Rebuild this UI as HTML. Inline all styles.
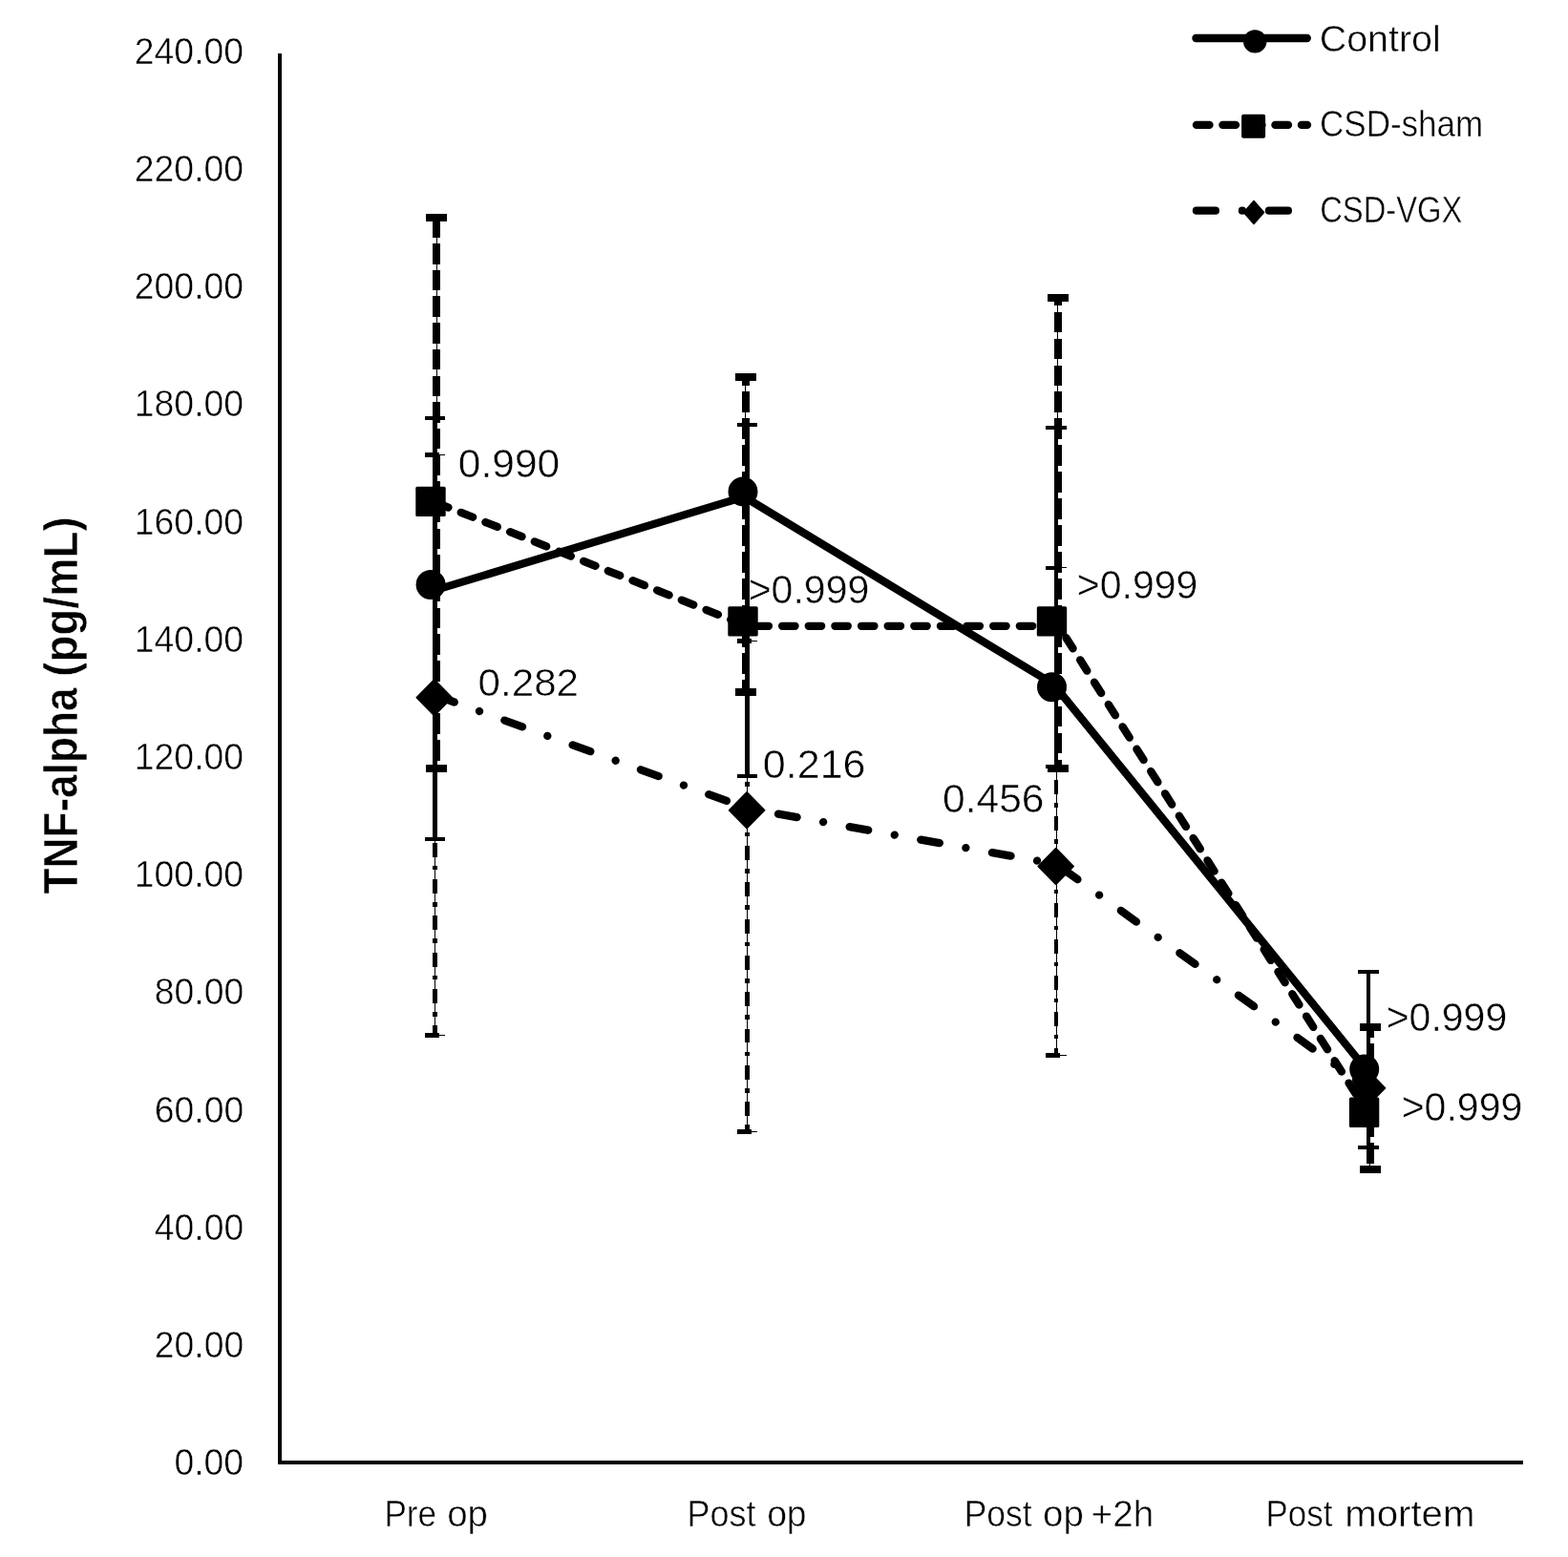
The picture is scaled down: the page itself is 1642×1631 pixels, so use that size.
<!DOCTYPE html>
<html lang="en">
<head>
<meta charset="utf-8">
<title>TNF-alpha (pg/mL) by time point</title>
<style>
html,body{margin:0;padding:0;background:#fff;}
body{width:1642px;height:1631px;overflow:hidden;}
svg{display:block;}
text{fill:#000;}
</style>
</head>
<body>
<svg xmlns="http://www.w3.org/2000/svg" width="1642" height="1631" viewBox="0 0 1642 1631">
<rect x="0" y="0" width="1642" height="1631" fill="#fff"/>
<g id="errorbars" fill="#000" shape-rendering="crispEdges">
<rect x="291.30" y="55.90" width="3.90" height="1478.10" />
<rect x="291.30" y="1530.00" width="1303.70" height="4.00" />
<rect x="454.95" y="476.70" width="1.10" height="607.80" />
<rect x="453.10" y="714.80" width="4.90" height="14.80" />
<rect x="453.10" y="701.00" width="4.90" height="4.70" />
<rect x="453.10" y="676.50" width="4.90" height="14.80" />
<rect x="453.10" y="662.70" width="4.90" height="4.70" />
<rect x="453.10" y="638.20" width="4.90" height="14.80" />
<rect x="453.10" y="624.40" width="4.90" height="4.70" />
<rect x="453.10" y="599.90" width="4.90" height="14.80" />
<rect x="453.10" y="586.10" width="4.90" height="4.70" />
<rect x="453.10" y="561.60" width="4.90" height="14.80" />
<rect x="453.10" y="547.80" width="4.90" height="4.70" />
<rect x="453.10" y="523.30" width="4.90" height="14.80" />
<rect x="453.10" y="509.50" width="4.90" height="4.70" />
<rect x="453.10" y="485.00" width="4.90" height="14.80" />
<rect x="453.10" y="729.60" width="4.90" height="14.80" />
<rect x="453.10" y="753.50" width="4.90" height="4.70" />
<rect x="453.10" y="767.90" width="4.90" height="14.80" />
<rect x="453.10" y="791.80" width="4.90" height="4.70" />
<rect x="453.10" y="806.20" width="4.90" height="14.80" />
<rect x="453.10" y="830.10" width="4.90" height="4.70" />
<rect x="453.10" y="844.50" width="4.90" height="14.80" />
<rect x="453.10" y="868.40" width="4.90" height="4.70" />
<rect x="453.10" y="882.80" width="4.90" height="14.80" />
<rect x="453.10" y="906.70" width="4.90" height="4.70" />
<rect x="453.10" y="921.10" width="4.90" height="14.80" />
<rect x="453.10" y="945.00" width="4.90" height="4.70" />
<rect x="453.10" y="959.40" width="4.90" height="14.80" />
<rect x="453.10" y="983.30" width="4.90" height="4.70" />
<rect x="453.10" y="997.70" width="4.90" height="14.80" />
<rect x="453.10" y="1021.60" width="4.90" height="4.70" />
<rect x="453.10" y="1036.00" width="4.90" height="14.80" />
<rect x="453.10" y="1059.90" width="4.90" height="4.70" />
<rect x="453.10" y="1074.30" width="4.90" height="10.20" />
<rect x="444.90" y="474.40" width="15.30" height="4.60" />
<rect x="460.20" y="476.15" width="5.90" height="1.10" />
<rect x="444.90" y="1082.10" width="15.30" height="4.80" />
<rect x="460.20" y="1083.95" width="5.90" height="1.10" />
<rect x="453.10" y="438.00" width="4.60" height="441.00" />
<rect x="444.90" y="435.90" width="21.20" height="4.20" />
<rect x="444.90" y="876.90" width="21.20" height="4.20" />
<rect x="456.75" y="227.90" width="1.10" height="577.10" />
<rect x="453.10" y="504.30" width="7.80" height="21.50" />
<rect x="453.10" y="476.60" width="7.80" height="21.50" />
<rect x="453.10" y="448.90" width="7.80" height="21.50" />
<rect x="453.10" y="421.20" width="7.80" height="21.50" />
<rect x="453.10" y="393.50" width="7.80" height="21.50" />
<rect x="453.10" y="365.80" width="7.80" height="21.50" />
<rect x="453.10" y="338.10" width="7.80" height="21.50" />
<rect x="453.10" y="310.40" width="7.80" height="21.50" />
<rect x="453.10" y="282.70" width="7.80" height="21.50" />
<rect x="453.10" y="255.00" width="7.80" height="21.50" />
<rect x="453.10" y="227.90" width="7.80" height="20.90" />
<rect x="453.10" y="525.80" width="7.80" height="21.50" />
<rect x="453.10" y="553.50" width="7.80" height="21.50" />
<rect x="453.10" y="581.20" width="7.80" height="21.50" />
<rect x="453.10" y="608.90" width="7.80" height="21.50" />
<rect x="453.10" y="636.60" width="7.80" height="21.50" />
<rect x="453.10" y="664.30" width="7.80" height="21.50" />
<rect x="453.10" y="692.00" width="7.80" height="21.50" />
<rect x="453.10" y="719.70" width="7.80" height="21.50" />
<rect x="453.10" y="747.40" width="7.80" height="21.50" />
<rect x="453.10" y="775.10" width="7.80" height="21.50" />
<rect x="453.10" y="802.80" width="7.80" height="2.20" />
<rect x="445.80" y="223.90" width="22.20" height="8.00" />
<rect x="445.80" y="801.00" width="22.20" height="8.00" />
<rect x="781.85" y="671.50" width="1.10" height="513.90" />
<rect x="779.90" y="833.00" width="5.15" height="14.80" />
<rect x="779.90" y="819.20" width="5.15" height="4.70" />
<rect x="779.90" y="794.70" width="5.15" height="14.80" />
<rect x="779.90" y="780.90" width="5.15" height="4.70" />
<rect x="779.90" y="756.40" width="5.15" height="14.80" />
<rect x="779.90" y="742.60" width="5.15" height="4.70" />
<rect x="779.90" y="718.10" width="5.15" height="14.80" />
<rect x="779.90" y="704.30" width="5.15" height="4.70" />
<rect x="779.90" y="679.80" width="5.15" height="14.80" />
<rect x="779.90" y="847.80" width="5.15" height="14.80" />
<rect x="779.90" y="871.70" width="5.15" height="4.70" />
<rect x="779.90" y="886.10" width="5.15" height="14.80" />
<rect x="779.90" y="910.00" width="5.15" height="4.70" />
<rect x="779.90" y="924.40" width="5.15" height="14.80" />
<rect x="779.90" y="948.30" width="5.15" height="4.70" />
<rect x="779.90" y="962.70" width="5.15" height="14.80" />
<rect x="779.90" y="986.60" width="5.15" height="4.70" />
<rect x="779.90" y="1001.00" width="5.15" height="14.80" />
<rect x="779.90" y="1024.90" width="5.15" height="4.70" />
<rect x="779.90" y="1039.30" width="5.15" height="14.80" />
<rect x="779.90" y="1063.20" width="5.15" height="4.70" />
<rect x="779.90" y="1077.60" width="5.15" height="14.80" />
<rect x="779.90" y="1101.50" width="5.15" height="4.70" />
<rect x="779.90" y="1115.90" width="5.15" height="14.80" />
<rect x="779.90" y="1139.80" width="5.15" height="4.70" />
<rect x="779.90" y="1154.20" width="5.15" height="14.80" />
<rect x="779.90" y="1178.10" width="5.15" height="4.70" />
<rect x="771.80" y="669.20" width="15.30" height="4.60" />
<rect x="787.10" y="670.95" width="5.90" height="1.10" />
<rect x="771.80" y="1183.00" width="15.30" height="4.80" />
<rect x="787.10" y="1184.85" width="5.90" height="1.10" />
<rect x="780.20" y="445.10" width="4.85" height="367.90" />
<rect x="771.80" y="443.00" width="21.20" height="4.20" />
<rect x="771.80" y="810.90" width="21.20" height="4.20" />
<rect x="780.15" y="395.00" width="1.10" height="330.00" />
<rect x="777.00" y="633.90" width="8.05" height="21.80" />
<rect x="777.00" y="605.90" width="8.05" height="21.80" />
<rect x="777.00" y="577.90" width="8.05" height="21.80" />
<rect x="777.00" y="549.90" width="8.05" height="21.80" />
<rect x="777.00" y="521.90" width="8.05" height="21.80" />
<rect x="777.00" y="493.90" width="8.05" height="21.80" />
<rect x="777.00" y="465.90" width="8.05" height="21.80" />
<rect x="777.00" y="437.90" width="8.05" height="21.80" />
<rect x="777.00" y="409.90" width="8.05" height="21.80" />
<rect x="777.00" y="395.00" width="8.05" height="8.70" />
<rect x="777.00" y="655.70" width="8.05" height="21.80" />
<rect x="777.00" y="683.70" width="8.05" height="21.80" />
<rect x="777.00" y="711.70" width="8.05" height="13.30" />
<rect x="769.90" y="391.00" width="22.20" height="8.00" />
<rect x="769.90" y="721.00" width="22.20" height="8.00" />
<rect x="1105.65" y="594.90" width="1.10" height="510.50" />
<rect x="1104.00" y="893.00" width="4.20" height="14.80" />
<rect x="1104.00" y="879.20" width="4.20" height="4.70" />
<rect x="1104.00" y="855.00" width="4.20" height="14.80" />
<rect x="1104.00" y="841.20" width="4.20" height="4.70" />
<rect x="1104.00" y="817.00" width="4.20" height="14.80" />
<rect x="1104.00" y="803.20" width="4.20" height="4.70" />
<rect x="1104.00" y="779.00" width="4.20" height="14.80" />
<rect x="1104.00" y="765.20" width="4.20" height="4.70" />
<rect x="1104.00" y="741.00" width="4.20" height="14.80" />
<rect x="1104.00" y="727.20" width="4.20" height="4.70" />
<rect x="1104.00" y="703.00" width="4.20" height="14.80" />
<rect x="1104.00" y="689.20" width="4.20" height="4.70" />
<rect x="1104.00" y="665.00" width="4.20" height="14.80" />
<rect x="1104.00" y="651.20" width="4.20" height="4.70" />
<rect x="1104.00" y="627.00" width="4.20" height="14.80" />
<rect x="1104.00" y="613.20" width="4.20" height="4.70" />
<rect x="1104.00" y="594.90" width="4.20" height="8.90" />
<rect x="1104.00" y="907.80" width="4.20" height="14.80" />
<rect x="1104.00" y="931.70" width="4.20" height="4.70" />
<rect x="1104.00" y="945.80" width="4.20" height="14.80" />
<rect x="1104.00" y="969.70" width="4.20" height="4.70" />
<rect x="1104.00" y="983.80" width="4.20" height="14.80" />
<rect x="1104.00" y="1007.70" width="4.20" height="4.70" />
<rect x="1104.00" y="1021.80" width="4.20" height="14.80" />
<rect x="1104.00" y="1045.70" width="4.20" height="4.70" />
<rect x="1104.00" y="1059.80" width="4.20" height="14.80" />
<rect x="1104.00" y="1083.70" width="4.20" height="4.70" />
<rect x="1104.00" y="1097.80" width="4.20" height="7.60" />
<rect x="1095.00" y="592.60" width="15.30" height="4.60" />
<rect x="1110.30" y="594.35" width="6.80" height="1.10" />
<rect x="1095.00" y="1103.00" width="15.30" height="4.80" />
<rect x="1110.30" y="1104.85" width="6.80" height="1.10" />
<rect x="1103.90" y="448.00" width="4.10" height="355.00" />
<rect x="1095.00" y="445.90" width="22.10" height="4.20" />
<rect x="1095.00" y="800.90" width="22.10" height="4.20" />
<rect x="1107.15" y="311.70" width="1.10" height="493.30" />
<rect x="1103.90" y="634.05" width="8.20" height="21.75" />
<rect x="1103.90" y="606.10" width="8.20" height="21.75" />
<rect x="1103.90" y="578.15" width="8.20" height="21.75" />
<rect x="1103.90" y="550.20" width="8.20" height="21.75" />
<rect x="1103.90" y="522.25" width="8.20" height="21.75" />
<rect x="1103.90" y="494.30" width="8.20" height="21.75" />
<rect x="1103.90" y="466.35" width="8.20" height="21.75" />
<rect x="1103.90" y="438.40" width="8.20" height="21.75" />
<rect x="1103.90" y="410.45" width="8.20" height="21.75" />
<rect x="1103.90" y="382.50" width="8.20" height="21.75" />
<rect x="1103.90" y="354.55" width="8.20" height="21.75" />
<rect x="1103.90" y="326.60" width="8.20" height="21.75" />
<rect x="1103.90" y="311.70" width="8.20" height="8.70" />
<rect x="1103.90" y="655.80" width="8.20" height="21.75" />
<rect x="1103.90" y="683.75" width="8.20" height="21.75" />
<rect x="1103.90" y="711.70" width="8.20" height="21.75" />
<rect x="1103.90" y="739.65" width="8.20" height="21.75" />
<rect x="1103.90" y="767.60" width="8.20" height="21.75" />
<rect x="1103.90" y="795.55" width="8.20" height="9.45" />
<rect x="1097.00" y="307.70" width="22.00" height="8.00" />
<rect x="1097.00" y="801.00" width="22.00" height="8.00" />
<rect x="1431.20" y="1018.00" width="3.70" height="184.00" />
<rect x="1422.10" y="1015.90" width="21.90" height="4.20" />
<rect x="1422.10" y="1199.90" width="21.90" height="4.20" />
<rect x="1434.25" y="1076.00" width="1.10" height="148.80" />
<rect x="1431.20" y="1148.10" width="7.90" height="21.50" />
<rect x="1431.20" y="1120.40" width="7.90" height="21.50" />
<rect x="1431.20" y="1092.70" width="7.90" height="21.50" />
<rect x="1431.20" y="1076.00" width="7.90" height="10.50" />
<rect x="1431.20" y="1169.60" width="7.90" height="21.50" />
<rect x="1431.20" y="1197.30" width="7.90" height="21.50" />
<rect x="1423.90" y="1072.00" width="22.10" height="8.00" />
<rect x="1423.90" y="1220.80" width="22.10" height="8.00" />
</g>
<g id="series">
<polyline points="452.5,619.1 779.2,520.4 1103.4,716.8 1430.0,1119.5" fill="none" stroke="#000" stroke-width="8.3" stroke-linecap="round" stroke-linejoin="round"/>
<polyline points="457.0,526.6 782.2,655.8 1108.6,655.8 1435.5,1170.8" fill="none" stroke="#000" stroke-width="8.3" stroke-linecap="round" stroke-linejoin="round" stroke-dasharray="13.4 14.23" stroke-dashoffset="-0.05"/>
<polyline points="454.8,727.9 782.1,846.6 1106.3,905.3 1432.0,1139.9" fill="none" stroke="#000" stroke-width="8.3" stroke-linecap="round" stroke-linejoin="round" stroke-dasharray="19.9 27.97 0.01 27.97" stroke-dashoffset="-2.35"/>
</g>
<g id="markers" fill="#000">
<circle cx="451.10" cy="612.50" r="15.50"/>
<circle cx="778.00" cy="514.90" r="15.50"/>
<circle cx="1101.50" cy="719.80" r="15.50"/>
<circle cx="1428.70" cy="1120.00" r="15.50"/>
<rect x="435.30" y="509.70" width="31.40" height="31.40" rx="1.6"/>
<rect x="762.30" y="635.20" width="31.40" height="31.40" rx="1.6"/>
<rect x="1085.80" y="635.20" width="31.40" height="31.40" rx="1.6"/>
<rect x="1412.90" y="1149.60" width="31.40" height="31.40" rx="1.6"/>
<path d="M436.20 730.70L454.80 711.70L473.40 730.70L454.80 749.70Z" stroke="#000" stroke-width="1.5" stroke-linejoin="round"/>
<path d="M763.50 848.80L782.10 829.80L800.70 848.80L782.10 867.80Z" stroke="#000" stroke-width="1.5" stroke-linejoin="round"/>
<path d="M1087.10 907.50L1105.70 888.50L1124.30 907.50L1105.70 926.50Z" stroke="#000" stroke-width="1.5" stroke-linejoin="round"/>
<path d="M1413.40 1139.80L1432.00 1120.80L1450.60 1139.80L1432.00 1158.80Z" stroke="#000" stroke-width="1.5" stroke-linejoin="round"/>
</g>
<g id="legend" fill="#000">
<line x1="1252.4" y1="40" x2="1368.8" y2="40" stroke="#000" stroke-width="8.3" stroke-linecap="round"/>
<line x1="1252.9" y1="130.9" x2="1369" y2="130.9" stroke="#000" stroke-width="8.3" stroke-linecap="round" stroke-dasharray="13.6 13.9"/>
<line x1="1252.9" y1="220.7" x2="1369" y2="220.7" stroke="#000" stroke-width="8.2" stroke-linecap="round" stroke-dasharray="20 28 0.01 28"/>
<circle cx="1314.20" cy="43.40" r="12.20"/>
<rect x="1300.10" y="119.80" width="25.00" height="25.00" rx="2"/>
<path d="M1302.40 222.50L1313.00 210.60L1323.60 222.50L1313.00 234.40Z" stroke="#000" stroke-width="1.5" stroke-linejoin="round"/>
</g>
<g id="labels">
<text y="66.71" font-family='"Liberation Sans", sans-serif' font-weight="normal" font-size="38.86px" stroke="#fff" stroke-width="0.51"><tspan x="140.85" textLength="114.18" lengthAdjust="spacingAndGlyphs">240.00</tspan></text>
<text y="189.91" font-family='"Liberation Sans", sans-serif' font-weight="normal" font-size="38.86px" stroke="#fff" stroke-width="0.51"><tspan x="140.85" textLength="114.18" lengthAdjust="spacingAndGlyphs">220.00</tspan></text>
<text y="313.11" font-family='"Liberation Sans", sans-serif' font-weight="normal" font-size="38.86px" stroke="#fff" stroke-width="0.51"><tspan x="140.85" textLength="114.18" lengthAdjust="spacingAndGlyphs">200.00</tspan></text>
<text y="436.31" font-family='"Liberation Sans", sans-serif' font-weight="normal" font-size="38.86px" stroke="#fff" stroke-width="0.51"><tspan x="140.85" textLength="114.18" lengthAdjust="spacingAndGlyphs">180.00</tspan></text>
<text y="559.51" font-family='"Liberation Sans", sans-serif' font-weight="normal" font-size="38.86px" stroke="#fff" stroke-width="0.51"><tspan x="140.85" textLength="114.18" lengthAdjust="spacingAndGlyphs">160.00</tspan></text>
<text y="682.71" font-family='"Liberation Sans", sans-serif' font-weight="normal" font-size="38.86px" stroke="#fff" stroke-width="0.51"><tspan x="140.85" textLength="114.18" lengthAdjust="spacingAndGlyphs">140.00</tspan></text>
<text y="805.91" font-family='"Liberation Sans", sans-serif' font-weight="normal" font-size="38.86px" stroke="#fff" stroke-width="0.51"><tspan x="140.85" textLength="114.18" lengthAdjust="spacingAndGlyphs">120.00</tspan></text>
<text y="929.11" font-family='"Liberation Sans", sans-serif' font-weight="normal" font-size="38.86px" stroke="#fff" stroke-width="0.51"><tspan x="140.85" textLength="114.18" lengthAdjust="spacingAndGlyphs">100.00</tspan></text>
<text y="1052.31" font-family='"Liberation Sans", sans-serif' font-weight="normal" font-size="38.86px" stroke="#fff" stroke-width="0.51"><tspan x="161.75" textLength="93.42" lengthAdjust="spacingAndGlyphs">80.00</tspan></text>
<text y="1175.51" font-family='"Liberation Sans", sans-serif' font-weight="normal" font-size="38.86px" stroke="#fff" stroke-width="0.51"><tspan x="161.75" textLength="93.42" lengthAdjust="spacingAndGlyphs">60.00</tspan></text>
<text y="1298.71" font-family='"Liberation Sans", sans-serif' font-weight="normal" font-size="38.86px" stroke="#fff" stroke-width="0.51"><tspan x="161.75" textLength="93.42" lengthAdjust="spacingAndGlyphs">40.00</tspan></text>
<text y="1421.91" font-family='"Liberation Sans", sans-serif' font-weight="normal" font-size="38.86px" stroke="#fff" stroke-width="0.51"><tspan x="161.75" textLength="93.42" lengthAdjust="spacingAndGlyphs">20.00</tspan></text>
<text y="1545.11" font-family='"Liberation Sans", sans-serif' font-weight="normal" font-size="38.86px" stroke="#fff" stroke-width="0.51"><tspan x="182.47" textLength="72.66" lengthAdjust="spacingAndGlyphs">0.00</tspan></text>
<text y="1599.20" font-family='"Liberation Sans", sans-serif' font-weight="normal" font-size="39.41px" stroke="#fff" stroke-width="0.51"><tspan x="402.44" textLength="54.66" lengthAdjust="spacingAndGlyphs">Pre</tspan> <tspan x="468.18" textLength="42.74" lengthAdjust="spacingAndGlyphs">op</tspan></text>
<text y="1599.20" font-family='"Liberation Sans", sans-serif' font-weight="normal" font-size="39.41px" stroke="#fff" stroke-width="0.51"><tspan x="719.56" textLength="71.93" lengthAdjust="spacingAndGlyphs">Post</tspan> <tspan x="803.14" textLength="41.43" lengthAdjust="spacingAndGlyphs">op</tspan></text>
<text y="1599.20" font-family='"Liberation Sans", sans-serif' font-weight="normal" font-size="39.41px" stroke="#fff" stroke-width="0.51"><tspan x="1009.72" textLength="70.77" lengthAdjust="spacingAndGlyphs">Post</tspan> <tspan x="1092.08" textLength="42.74" lengthAdjust="spacingAndGlyphs">op</tspan> <tspan x="1142.57" textLength="65.58" lengthAdjust="spacingAndGlyphs">+2h</tspan></text>
<text y="1599.20" font-family='"Liberation Sans", sans-serif' font-weight="normal" font-size="39.41px" stroke="#fff" stroke-width="0.51"><tspan x="1325.56" textLength="69.82" lengthAdjust="spacingAndGlyphs">Post</tspan> <tspan x="1408.19" textLength="136.20" lengthAdjust="spacingAndGlyphs">mortem</tspan></text>
<text y="53.61" font-family='"Liberation Sans", sans-serif' font-weight="normal" font-size="38.29px" stroke="#fff" stroke-width="0.49"><tspan x="1381.74" textLength="126.96" lengthAdjust="spacingAndGlyphs">Control</tspan></text>
<text y="142.61" font-family='"Liberation Sans", sans-serif' font-weight="normal" font-size="38.29px" stroke="#fff" stroke-width="0.49"><tspan x="1382.00" textLength="171.22" lengthAdjust="spacingAndGlyphs">CSD-sham</tspan></text>
<text y="232.61" font-family='"Liberation Sans", sans-serif' font-weight="normal" font-size="38.29px" stroke="#fff" stroke-width="0.49"><tspan x="1382.13" textLength="149.25" lengthAdjust="spacingAndGlyphs">CSD-VGX</tspan></text>
<text y="499.99" font-family='"Liberation Sans", sans-serif' font-weight="normal" font-size="41.79px" stroke="#fff" stroke-width="0.51"><tspan x="479.79" textLength="106.43" lengthAdjust="spacingAndGlyphs">0.990</tspan></text>
<text y="728.99" font-family='"Liberation Sans", sans-serif' font-weight="normal" font-size="41.57px" stroke="#fff" stroke-width="0.51"><tspan x="500.60" textLength="105.42" lengthAdjust="spacingAndGlyphs">0.282</tspan></text>
<text y="631.89" font-family='"Liberation Sans", sans-serif' font-weight="normal" font-size="41.71px" stroke="#fff" stroke-width="0.51"><tspan x="783.64" textLength="126.68" lengthAdjust="spacingAndGlyphs">&gt;0.999</tspan></text>
<text y="814.89" font-family='"Liberation Sans", sans-serif' font-weight="normal" font-size="41.86px" stroke="#fff" stroke-width="0.51"><tspan x="798.86" textLength="107.70" lengthAdjust="spacingAndGlyphs">0.216</tspan></text>
<text y="850.89" font-family='"Liberation Sans", sans-serif' font-weight="normal" font-size="41.71px" stroke="#fff" stroke-width="0.51"><tspan x="986.98" textLength="106.55" lengthAdjust="spacingAndGlyphs">0.456</tspan></text>
<text y="626.99" font-family='"Liberation Sans", sans-serif' font-weight="normal" font-size="41.71px" stroke="#fff" stroke-width="0.51"><tspan x="1127.74" textLength="126.57" lengthAdjust="spacingAndGlyphs">&gt;0.999</tspan></text>
<text y="1079.99" font-family='"Liberation Sans", sans-serif' font-weight="normal" font-size="41.79px" stroke="#fff" stroke-width="0.51"><tspan x="1451.64" textLength="126.57" lengthAdjust="spacingAndGlyphs">&gt;0.999</tspan></text>
<text y="1174.09" font-family='"Liberation Sans", sans-serif' font-weight="normal" font-size="41.71px" stroke="#fff" stroke-width="0.51"><tspan x="1467.64" textLength="126.68" lengthAdjust="spacingAndGlyphs">&gt;0.999</tspan></text>
<text transform="translate(80.59 935.60) rotate(-90)" y="0" font-family='"Liberation Sans", sans-serif' font-weight="bold" font-size="49.04px" stroke="#fff" stroke-width="0.61"><tspan x="-0.88" textLength="215.92" lengthAdjust="spacingAndGlyphs">TNF-alpha</tspan> <tspan x="226.79" textLength="167.45" lengthAdjust="spacingAndGlyphs">(pg/mL)</tspan></text>
</g>
</svg>
</body>
</html>
